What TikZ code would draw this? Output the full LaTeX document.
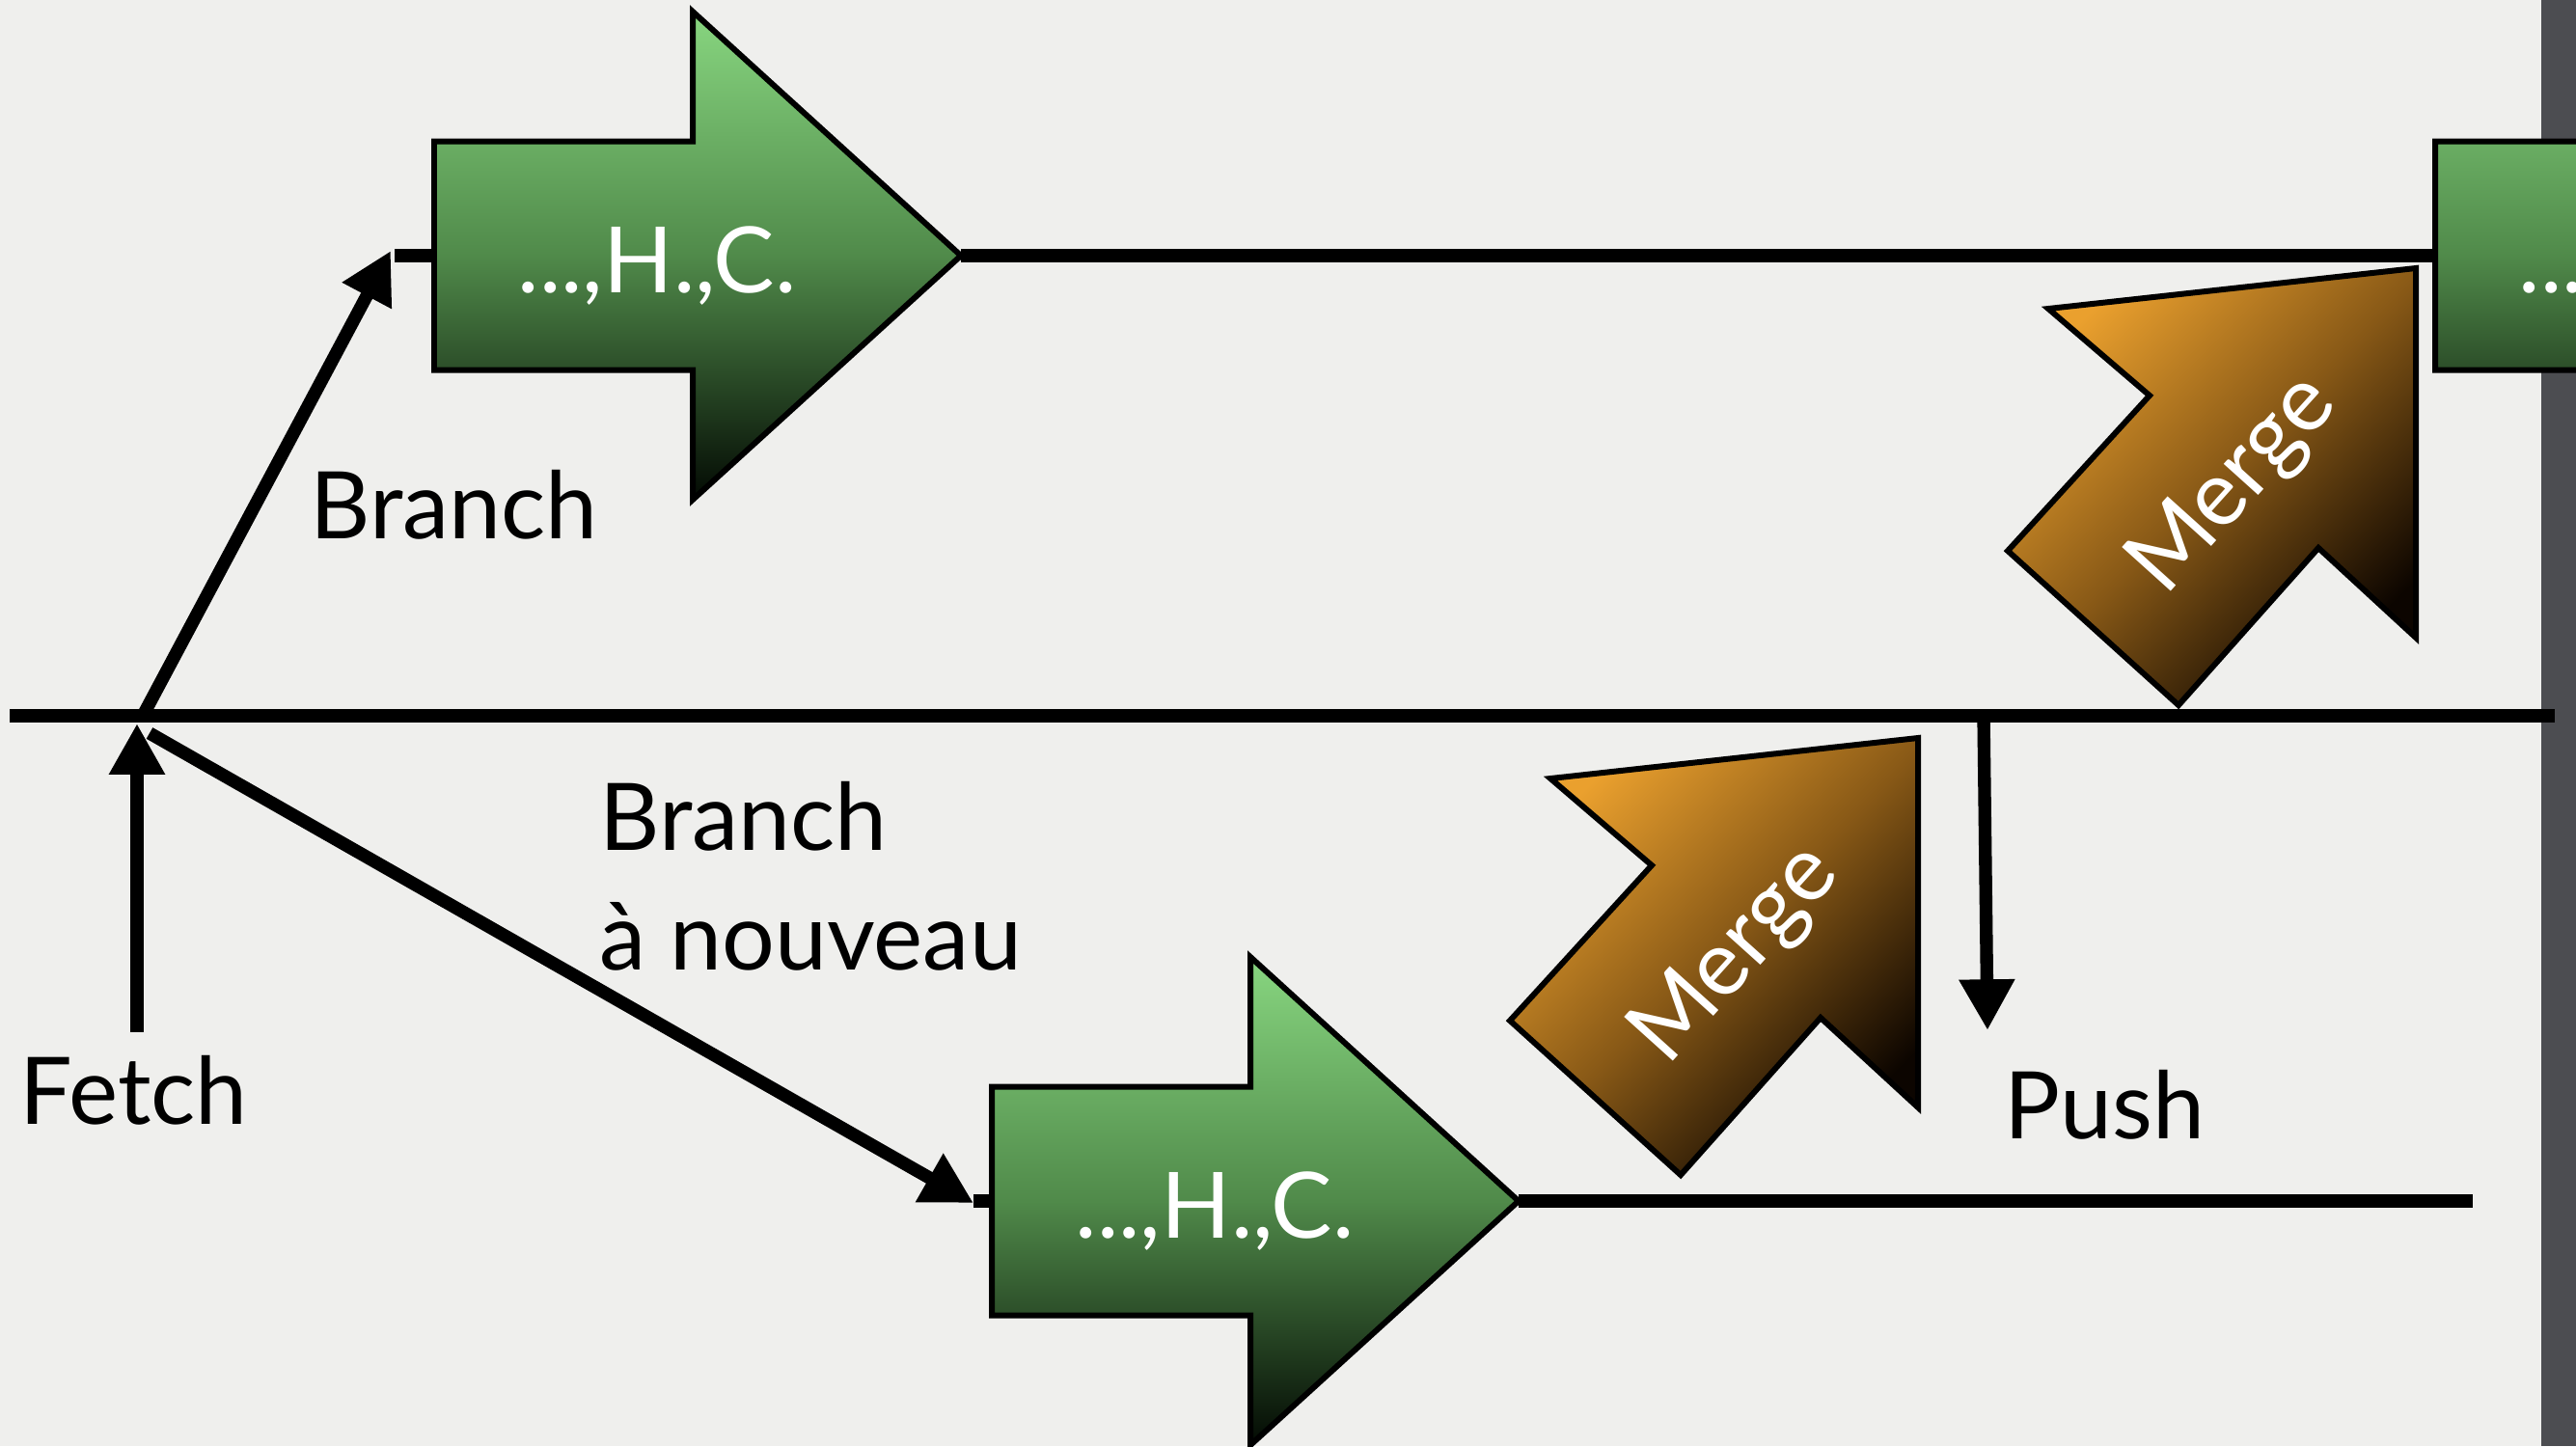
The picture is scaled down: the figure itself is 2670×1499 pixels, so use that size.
\documentclass[tikz,border=0pt]{standalone}
\usepackage{fontspec}
\setmainfont{Lato}
\usetikzlibrary{arrows.meta}
\definecolor{bg}{RGB}{239,239,237}
\definecolor{strip}{RGB}{76,77,81}
\definecolor{gtop}{RGB}{136,214,128}
\definecolor{gmid}{RGB}{80,138,74}
\definecolor{gbot}{RGB}{3,10,3}
\definecolor{otop}{RGB}{234,160,46}
\definecolor{omid}{RGB}{135,88,22}
\definecolor{obot}{RGB}{12,5,0}
\tikzset{
  conn/.style={line width=3.8pt, draw=black},
  arr/.style={conn, -{Triangle[length=15pt,width=15.5pt]}},
  greenshape/.style={draw=black, line width=1.7pt, line join=miter, top color=gtop, bottom color=gbot, middle color=gmid},
  mergeshape/.style={draw=black, line width=1.7pt, line join=miter, top color=otop, bottom color=obot, middle color=omid, shading angle=45},
  lbl/.style={font=\fontsize{27.5}{35}\selectfont, inner sep=0pt, text=black},
  hclbl/.style={font=\fontsize{27}{30}\selectfont, inner sep=0pt, text=white},
  mergelbl/.style={font=\fontsize{27}{30}\selectfont, inner sep=0pt, text=white, rotate=48},
  hcarrow/.pic={
    \path[greenshape] (0,-118.5) -- (268,-118.5) -- (268,-253) -- (546,0) -- (268,253) -- (268,118.5) -- (0,118.5) -- cycle;
    \coordinate (-tip) at (546,0);
    \coordinate (-tail) at (0,0);
    \node[hclbl, anchor=base west] (-lbl) at (86,38) {#1};
  },
  mergearrow/.pic={
    \path[mergeshape] (0,0) -- (147,-161) -- (42,-251) -- (423,-293) -- (423,90) -- (322,-3) -- (177,160) -- cycle;
    \node[mergelbl] (-lbl) at (235,-68) {Merge};
  }
}
\begin{document}
\begin{tikzpicture}[x=0.01cm, y=-0.01cm]
\useasboundingbox (0,0) rectangle (2670,1499);
\clip (0,0) rectangle (2670,1499);
\fill[bg] (0,0) rectangle (2670,1499);
\fill[strip] (2634,0) rectangle (2670,1499);

% coordinates
\coordinate (mainL) at (10,742);
\coordinate (mainR) at (2648,742);
\coordinate (fetchS) at (142,1070);
\coordinate (fetchE) at (142,750);
\coordinate (b1S) at (148,742);
\coordinate (b1E) at (405,260);
\coordinate (stub1) at (409,265);
\coordinate (b2S) at (155,760);
\coordinate (b2E) at (1009,1247);
\coordinate (stub2) at (1009,1245);
\coordinate (pushS) at (2056,742);
\coordinate (pushE) at (2060,1068);
\coordinate (endB) at (2563,1245);

% green commit arrows
\pic (hcA) at (450,265) {hcarrow={...,H.,C.}};
\pic (hcB) at (1028,1245) {hcarrow={...,H.,C.}};
\pic (hcR) at (2524,265) {hcarrow={...}};

% connectors
\draw[conn] (mainL) -- (mainR);
\draw[conn] (hcA-tip) -- (hcR-tail);
\draw[conn] (hcB-tip) -- (endB);
\draw[conn] (stub1) -- (hcA-tail);
\draw[conn] (stub2) -- (hcB-tail);
\draw[arr] (fetchS) -- (fetchE);
\draw[arr] (b1S) -- (b1E);
\draw[arr] (b2S) -- (b2E);
\draw[arr] (pushS) -- (pushE);

% merge arrows
\pic (mgLow) at (1565,1058) {mergearrow};
\pic (mgUp) at (2081,571) {mergearrow};

% labels
\node[lbl, anchor=base west] (lblBranch) at (321,558) {Branch};
\node[lbl, anchor=base west, align=left] (lblBranch2) at (621,1005) {Branch\\à nouveau};
\node[lbl, anchor=base west] (lblFetch) at (20,1165) {Fetch};
\node[lbl, anchor=base west] (lblPush) at (2077,1180) {Push};
\end{tikzpicture}
\end{document}
